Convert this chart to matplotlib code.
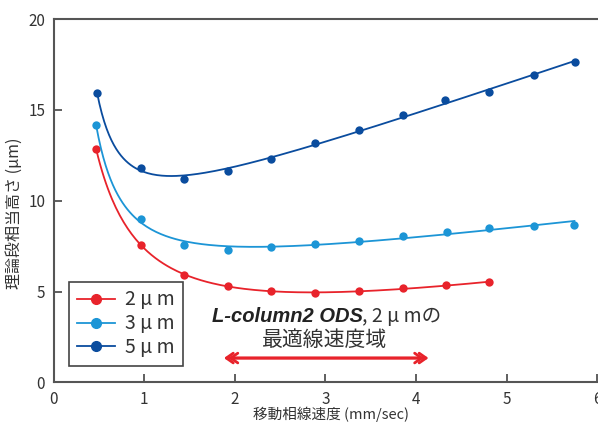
import numpy as np
import matplotlib.pyplot as plt

plt.rcParams['font.family'] = ['Noto Sans CJK JP', 'DejaVu Sans']

# flow rate (mm/sec) and HETP (um)
u_2um = [0.47, 0.97, 1.44, 1.93, 2.40, 2.89, 3.37, 3.86, 4.33, 4.81]
h_2um = [12.85, 7.55, 5.91, 5.31, 5.01, 4.92, 5.03, 5.18, 5.34, 5.51]
u_3um = [0.47, 0.97, 1.44, 1.93, 2.40, 2.89, 3.37, 3.86, 4.34, 4.81, 5.30, 5.75]
h_3um = [14.14, 9.00, 7.56, 7.27, 7.47, 7.62, 7.80, 8.06, 8.26, 8.52, 8.59, 8.68]
u_5um = [0.48, 0.97, 1.44, 1.93, 2.40, 2.89, 3.37, 3.86, 4.32, 4.81, 5.30, 5.76]
h_5um = [15.94, 11.82, 11.22, 11.63, 12.30, 13.20, 13.88, 14.71, 15.55, 15.99, 16.93, 17.61]

labels = ['2 μ m', '3 μ m', '5 μ m']
colors = ['#e8232b', '#1c95d6', '#0a4c9e']


def fit_curve(u, h):
    # H = A + B/u + D/u^2 + C*u least squares fit
    u = np.array(u)
    M = np.column_stack([np.ones_like(u), 1 / u, 1 / u**2, u])
    coef = np.linalg.lstsq(M, np.array(h), rcond=None)[0]
    uu = np.linspace(u.min(), u.max(), 200)
    return uu, coef[0] + coef[1] / uu + coef[2] / uu**2 + coef[3] * uu


fig = plt.figure(figsize=(5.98, 4.23), dpi=100)
ax = fig.add_axes([0.0895, 0.096, 0.909, 0.859])

for u, h, lab, c in zip([u_2um, u_3um, u_5um], [h_2um, h_3um, h_5um], labels, colors):
    uu, hh = fit_curve(u, h)
    ax.plot(uu, hh, '-', color=c, lw=1.3)
    ax.plot(u, h, 'o', color=c, ms=6, mec='none')
    ax.plot([], [], 'o-', color=c, ms=7, lw=1.3, label=lab)

ax.set_xlim(0, 6)
ax.set_ylim(0, 20)
ax.set_xticks(range(0, 7))
ax.set_yticks(range(0, 21, 5))
ax.tick_params(direction='in', length=6, width=1.2, colors='#444', labelcolor='#333',
               labelsize=11, pad=6)
for s in ['left', 'bottom', 'top']:
    ax.spines[s].set_color('#555')
    ax.spines[s].set_linewidth(1.5)
ax.spines['right'].set_visible(False)

ax.set_xlabel('移動相線速度 (mm/sec)', fontsize=10.5, color='#333')
ax.set_ylabel('理論段相当高さ (μm)', fontsize=11.5, color='#333')
ax.yaxis.set_label_coords(-0.056, 0.465)
ax.xaxis.set_label_coords(0.51, -0.066)

leg = ax.legend(loc='lower left', bbox_to_anchor=(0.028, 0.045), borderaxespad=0,
                fontsize=14, fancybox=False, edgecolor='#444', framealpha=1,
                handlelength=2.0, labelspacing=0.15, borderpad=0.4, handletextpad=0.5)
leg.get_frame().set_linewidth(1.2)
for t in leg.get_texts():
    t.set_color('#333')

ax.text(3.41, 3.6, 'L-column2 ODS', ha='right', va='center', fontsize=14.5,
        fontweight='bold', fontstyle='italic', color='#222', family='Liberation Sans')
ax.text(3.41, 3.6, ', 2 μ mの', ha='left', va='center', fontsize=14, color='#333')
ax.text(2.99, 2.33, '最適線速度域', ha='center', va='center', fontsize=15, color='#333')

arr = dict(arrowstyle='<->,head_length=0.5,head_width=0.35', color='#e8232b', lw=2)
ax.annotate('', xy=(1.85, 1.34), xytext=(4.17, 1.34), arrowprops=arr)
ax.annotate('', xy=(1.90, 1.34), xytext=(4.12, 1.34), arrowprops=arr)

fig.savefig('out.png', dpi=100)
